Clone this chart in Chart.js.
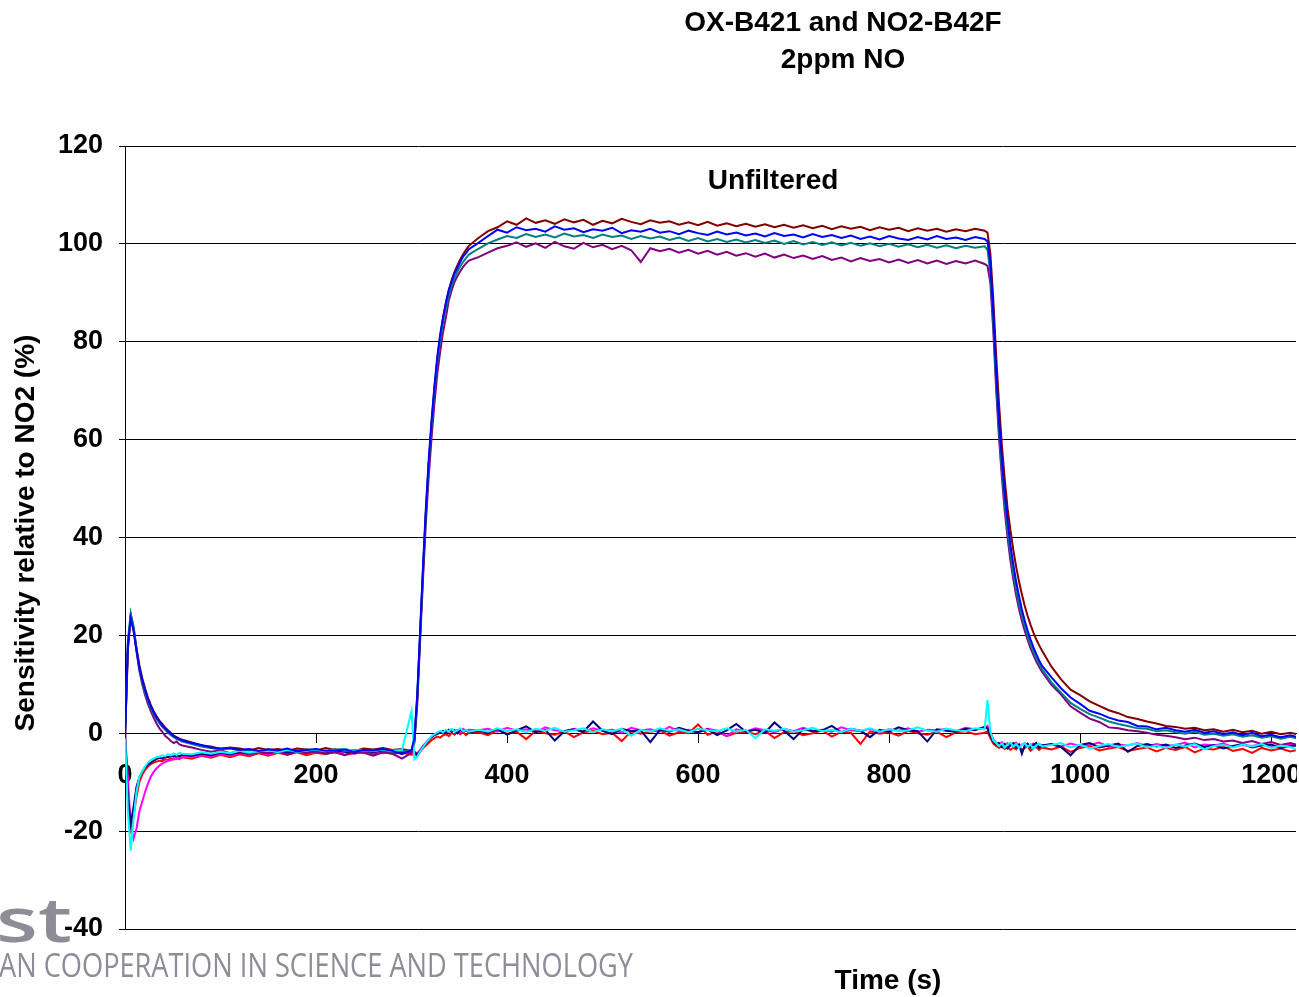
<!DOCTYPE html>
<html>
<head>
<meta charset="utf-8">
<title>OX-B421 and NO2-B42F - 2ppm NO</title>
<script src="https://cdn.jsdelivr.net/npm/chart.js@4.4.1/dist/chart.umd.min.js"></script>
<style>
  html, body { margin: 0; padding: 0; background: #fff; }
  #wrap { width: 1299px; height: 997px; overflow: hidden; background: #fff; }
  canvas { display: block; }
</style>
</head>
<body>
<div id="wrap"><canvas id="chart" width="1297" height="997"></canvas></div>
<script>
// time axis (s), denser around the gas switching steps
const times = [0,3,6,9,12,15,18,21,24,27,30,33,36,39,42,45,48,51,54,57,60,
  70,80,90,100,110,120,130,140,150,160,170,180,190,200,210,220,230,240,250,260,270,280,290,300,
  303,306,309,312,315,318,321,324,327,330,333,336,339,342,345,348,351,354,357,360,
  370,380,390,400,410,420,430,440,450,460,470,480,490,500,510,520,530,540,550,560,570,580,590,600,610,620,630,640,650,660,670,680,690,700,710,720,730,740,750,760,770,780,790,800,810,820,830,840,850,860,870,880,890,900,
  903,906,909,912,915,918,921,924,927,930,933,936,939,942,945,948,951,954,957,960,
  970,980,990,1000,1010,1020,1030,1040,1050,1060,1070,1080,1090,1100,1110,1120,1130,1140,1150,1160,1170,1180,1190,1200,1210,1220,1230];

// OX-B421 sensors (respond to NO)
const oxBlue = [-1,18,23.5,21,17,13.5,11,8.8,7,5.5,4.3,3.2,2.5,1.6,1.0,0.4,-0.1,-0.6,-0.9,-1.2,-1.5,
  -2.0,-2.4,-2.9,-3.1,-3.0,-3.4,-3.2,-3.6,-3.3,-3.5,-3.1,-3.7,-3.4,-3.2,-3.6,-3.5,-3.3,-3.8,-3.4,-3.5,-3.2,-3.6,-4.3,-3.4,
  -1,8,21,34,46,56,64,71,77,81.5,85,88,90.5,92.3,94,95.1,96.3,97.4,98.1,98.9,
  100.2,101.6,102.9,102.3,103.4,102.8,103.1,102.5,103.6,102.9,103.2,102.4,103.0,102.7,103.3,102.2,102.8,102.5,103.1,102.3,
  102.6,102.0,102.7,102.2,101.8,102.5,101.9,102.3,101.7,102.1,101.5,102.2,101.6,101.9,101.3,102.0,101.4,101.8,101.2,101.7,
  101.0,101.5,100.9,101.6,101.1,100.8,101.4,100.9,101.6,101.0,101.3,100.8,101.4,101.0,
  100.5,96,86,74,64,56,49,43.5,38.5,34.5,31,28,25.3,23,21,19.2,17.6,16.2,14.9,13.8,
  11.4,9.2,7.3,6.0,4.6,4.0,3.2,2.6,2.3,1.5,1.4,0.8,1.1,0.6,0.3,0.7,0.1,0.4,-0.2,0.2,-0.4,0.1,-0.6,-0.3,-0.8,-0.4,-0.9];

const oxBrown = [-1.5,17,24.2,21.5,17.5,14,11.3,9.2,7.3,5.8,4.5,3.5,2.6,1.9,1.2,0.6,0.1,-0.5,-0.8,-1.1,-1.3,
  -1.9,-2.5,-2.7,-3.2,-2.9,-3.1,-3.5,-3.0,-3.4,-3.2,-3.6,-3.1,-3.3,-3.5,-3.0,-3.4,-3.2,-3.6,-3.1,-3.3,-3.0,-3.4,-3.2,-3.6,
  -1.5,7,20,33,45,55,63.5,70.5,76.5,81,84.8,88,90.6,92.6,94.3,95.6,96.8,97.9,98.8,99.6,
  101.2,102.6,103.4,104.6,103.9,105.2,104.3,104.8,104.1,105.0,104.4,104.9,103.9,104.7,104.2,105.1,104.5,104.0,104.8,104.3,
  104.6,103.9,104.4,103.8,104.5,103.7,104.2,103.6,104.1,103.5,104.0,103.4,103.9,103.3,103.8,103.2,103.7,103.0,103.6,103.1,
  103.5,102.8,103.4,102.9,103.3,102.6,103.2,102.7,103.1,102.5,103.0,102.6,103.1,102.7,
  102.3,98,89,77.5,67.5,59,52,46,41.5,37.5,34,31,28.4,26,24,22.2,20.6,19.2,18,16.9,
  13.6,11.0,8.9,7.8,6.5,5.6,4.7,4.1,3.3,2.9,2.4,2.0,1.5,1.3,0.9,1.1,0.6,0.8,0.3,0.7,0.2,0.5,-0.1,0.3,-0.2,0.1,-0.3];

const oxTeal = [-0.5,19,24.5,21.8,17.2,13.2,10.5,8.3,6.6,5.1,3.9,2.9,2.0,1.3,0.7,0.1,-0.4,-0.8,-1.2,-1.4,-1.7,
  -2.2,-2.7,-3.0,-3.3,-3.1,-3.5,-3.3,-3.7,-3.2,-3.6,-3.4,-3.8,-3.3,-3.5,-3.7,-3.2,-3.6,-3.4,-3.7,-3.3,-3.5,-3.8,-3.6,-3.5,
  -1.2,7.5,20.5,33.5,45,55,63,70,76,80.5,84,87,89.5,91.5,93,94.3,95.4,96.3,97.1,97.8,
  99.0,100.1,100.9,101.6,101.2,102.0,101.4,101.9,101.3,102.1,101.5,101.8,101.2,101.9,101.4,101.7,101.0,101.6,101.1,101.5,
  100.8,101.3,100.6,101.2,100.5,101.0,100.4,100.9,100.3,100.8,100.2,100.7,100.0,100.6,99.9,100.4,99.8,100.3,99.7,100.2,
  99.6,100.1,99.5,100.0,99.4,99.9,99.3,99.8,99.2,99.7,99.1,99.6,99.2,99.5,
  98.8,94,84,72,62,54,47,41.5,36.8,32.8,29.4,26.5,24,21.8,19.9,18.2,16.7,15.4,14.2,13.1,
  10.4,8.3,6.2,5.0,3.9,3.2,2.4,1.9,1.5,1.0,0.9,0.4,0.6,0.2,-0.1,0.3,-0.3,-0.1,-0.5,-0.2,-0.7,-0.4,-0.9,-0.6,-1.1,-0.7,-1.2];

const oxPurple = [-0.8,17.5,23.8,21,16.8,12.8,10,7.8,6,4.5,3.2,2.0,1.0,0.3,-0.5,-1.0,-1.6,-2.0,-1.7,-2.3,-2.5,
  -2.9,-3.4,-3.8,-3.5,-4.1,-3.7,-4.3,-3.9,-4.0,-3.6,-4.4,-3.8,-4.1,-3.7,-4.2,-3.9,-4.5,-3.8,-4.0,-4.6,-3.9,-4.2,-5.2,-4.0,
  -2,6,19,31.5,43,52.5,60.5,67.5,73.5,78,82,85,88.5,90.5,92.2,93.4,94.4,95.3,96,96.6,
  97.3,98.2,99.1,99.6,100.3,99.4,100.1,99.2,100.4,99.5,99.0,100.2,99.3,99.8,98.9,99.6,98.7,96.3,99.1,98.5,
  99.0,98.2,98.8,98.0,98.6,97.8,98.4,97.6,98.1,97.4,98.0,97.2,97.8,97.1,97.6,96.9,97.5,96.7,97.2,96.4,
  97.1,96.5,96.9,96.2,96.8,96.1,96.7,96.0,96.6,95.9,96.5,96.0,96.6,95.9,
  95.5,92,82.5,70.5,60.5,52.5,45.5,40,35.3,31.5,28.2,25.4,23,20.9,19.1,17.4,16,14.7,13.6,12.6,
  9.9,7.9,5.5,4.2,3.0,2.3,1.2,1.0,0.6,0.4,0.1,-0.3,-0.5,-0.8,-1.2,-0.9,-1.4,-1.2,-1.7,-1.5,-2.0,-1.6,-2.2,-1.8,-2.4,-2.0,-2.5];

// NO2-B42F sensors (little response to NO)
const no2Red = [0,-12,-19.5,-17,-13,-10,-8.5,-7.5,-6.8,-6.3,-6.0,-5.8,-5.6,-5.7,-5.3,-5.5,-5.1,-5.4,-5.0,-5.3,-4.9,
  -5.2,-4.6,-5.0,-4.4,-4.9,-4.3,-4.7,-4.1,-4.6,-4.0,-4.4,-3.9,-4.5,-4.0,-4.3,-3.8,-4.4,-4.1,-3.9,-4.3,-3.8,-4.2,-4.0,-4.4,
  -4.2,-4.6,-3.8,-3.1,-2.5,-2.0,-1.4,-1.0,-0.7,-0.9,-0.4,-0.2,-0.6,0.1,-0.3,0.3,-0.2,0.2,-0.4,0.1,
  0.2,-0.4,0.6,-0.1,0.3,-1.2,0.5,0.0,-0.3,0.4,-0.8,0.2,0.5,-0.2,0.1,-1.6,0.4,-0.1,0.3,0.6,
  -0.5,0.2,0.0,1.8,-0.3,0.4,-0.6,0.1,0.3,-0.2,0.5,-1.0,0.2,0.4,-0.4,0.0,0.6,-0.7,0.3,0.1,
  -2.2,0.4,-0.1,0.2,-0.5,0.5,0.0,-0.3,0.3,-0.8,0.2,0.4,-0.2,0.1,
  0.4,-1.0,-2.1,-2.6,-3.0,-2.7,-3.2,-2.8,-3.4,-2.9,-3.3,-2.6,-3.5,-3.0,-2.7,-3.6,-3.1,-2.8,-3.4,-2.9,
  -3.3,-2.7,-3.8,-3.0,-2.6,-3.5,-3.1,-2.8,-3.6,-3.2,-2.9,-3.7,-3.0,-3.4,-2.8,-3.9,-3.1,-3.3,-2.7,-3.6,-3.2,-4.0,-3.0,-3.5,-3.1,-3.7,-3.3];

const no2Magenta = [0,-9,-19,-21.5,-19.5,-16,-14,-12,-10.3,-8.9,-7.9,-7.2,-6.6,-6.2,-5.9,-5.6,-5.5,-5.2,-5.3,-5.0,-4.9,
  -4.8,-4.5,-4.7,-4.2,-4.6,-4.0,-4.4,-3.9,-4.3,-3.8,-4.2,-3.7,-4.1,-3.9,-3.6,-4.0,-3.7,-4.2,-3.8,-3.6,-4.1,-3.7,-3.9,-3.8,
  -3.9,-4.1,-3.4,-2.6,-1.9,-1.2,-0.7,-0.3,0.0,0.3,0.1,0.6,0.3,0.8,0.4,0.7,0.2,0.9,0.5,0.7,
  0.6,0.9,0.3,1.1,0.5,0.8,0.2,1.2,0.6,0.4,0.9,0.3,1.0,0.5,0.7,0.1,1.1,0.6,0.8,0.3,
  1.3,0.4,0.7,0.2,0.9,0.5,-0.6,0.8,0.3,1.0,0.6,0.2,0.9,0.4,1.1,0.5,0.7,0.3,1.2,0.6,
  0.4,0.9,0.2,0.8,0.5,1.0,0.3,0.7,0.6,0.9,0.4,1.1,0.8,1.0,
  1.5,0.2,-1.2,-1.9,-2.3,-1.8,-2.5,-2.0,-2.6,-2.2,-1.9,-2.7,-2.3,-2.0,-2.8,-2.4,-2.1,-2.6,-2.2,-2.5,
  -2.3,-2.7,-2.1,-2.6,-2.4,-1.9,-2.8,-2.3,-2.5,-2.0,-2.7,-2.2,-2.6,-2.4,-1.9,-2.9,-2.3,-2.5,-2.1,-2.8,-2.4,-2.6,-2.2,-2.7,-2.5,-2.3,-2.8];

const no2Navy = [0,-13,-18.5,-15,-11,-9,-7.8,-7.0,-6.4,-6.0,-5.6,-5.3,-5.0,-5.2,-4.8,-4.9,-4.6,-4.8,-4.5,-4.7,-4.4,
  -4.6,-4.2,-4.5,-4.0,-4.3,-3.9,-4.2,-3.8,-4.1,-3.7,-4.0,-3.6,-3.9,-3.7,-4.0,-3.5,-3.8,-4.1,-3.6,-3.9,-3.5,-3.8,-4.0,-3.7,
  -3.8,-4.4,-3.6,-2.8,-2.1,-1.4,-0.8,-0.4,-0.1,0.2,0.5,0.1,0.7,0.3,0.6,0.0,0.8,0.4,0.6,0.2,
  0.5,0.1,0.9,-0.3,0.6,1.4,0.2,0.7,-1.5,0.4,0.8,0.3,2.4,0.5,-0.2,0.9,0.4,0.6,-1.8,0.7,
  0.3,1.1,0.5,0.2,0.8,-0.4,0.6,1.9,0.3,0.7,0.1,2.2,0.5,-1.2,0.8,0.4,0.6,1.5,0.2,0.9,
  0.5,-0.8,0.7,0.3,1.2,0.6,0.4,-1.7,0.8,0.5,0.3,0.9,0.6,1.3,
  1.0,-0.5,-1.6,-2.3,-2.0,-2.8,-2.2,-3.1,-2.4,-2.0,-2.9,-2.3,-4.2,-2.5,-2.1,-2.9,-2.4,-2.0,-3.0,-2.5,
  -2.2,-2.8,-4.5,-2.4,-2.0,-2.9,-2.5,-2.1,-3.8,-2.6,-2.2,-2.7,-2.3,-3.0,-2.5,-2.1,-2.8,-2.4,-3.1,-2.6,-2.2,-2.9,-2.5,-2.3,-3.0,-2.6,-2.4];

const no2Cyan = [0,-16,-24,-17.5,-12,-9,-7.8,-6.8,-6.0,-5.5,-5.2,-4.9,-4.8,-4.5,-4.7,-4.3,-4.5,-4.1,-4.4,-4.0,-4.2,
  -4.3,-3.9,-4.2,-3.8,-4.1,-3.6,-4.0,-3.7,-3.5,-3.9,-3.4,-3.8,-3.6,-3.3,-3.7,-3.5,-3.2,-3.6,-3.4,-3.7,-3.3,-3.6,-3.4,4.5,
  -5.3,-4.8,-3.7,-2.9,-2.0,-1.3,-0.6,-0.2,0.2,0.5,0.2,0.7,0.4,0.9,0.3,0.6,1.0,0.4,0.7,0.3,
  0.7,0.3,1.0,0.4,0.8,0.2,0.9,0.5,1.1,0.3,0.6,1.0,0.2,0.8,0.4,0.9,-0.5,0.7,0.3,1.0,
  0.5,0.8,0.2,0.9,0.6,0.4,1.0,0.3,0.7,-1.0,0.8,0.5,0.9,0.3,0.6,1.1,0.4,0.7,0.2,0.9,
  0.5,1.0,0.3,0.8,0.4,0.6,1.2,0.5,0.3,0.9,0.6,0.4,1.0,0.8,
  6.8,0.3,-1.4,-2.0,-2.6,-2.1,-2.9,-2.3,-1.9,-2.7,-2.2,-3.0,-2.4,-2.0,-2.8,-2.3,-3.2,-2.5,-2.1,-2.7,
  -2.4,-2.0,-2.9,-2.3,-3.1,-2.6,-2.2,-2.8,-2.4,-2.1,-2.9,-2.5,-3.0,-2.3,-2.7,-2.2,-3.3,-2.6,-2.4,-2.9,-2.3,-2.7,-2.2,-3.0,-2.5,-2.8,-3.6];

const xTicks = [0, 200, 400, 600, 800, 1000, 1200];
const yTicks = [-40, -20, 0, 20, 40, 60, 80, 100, 120];
const titleLines = ['OX-B421 and NO2-B42F', '2ppm NO'];

const BOLD = "bold 28px 'Liberation Sans', Arial, Helvetica, sans-serif";
const TICK_FONT = { family: "'Liberation Sans', Arial, Helvetica, sans-serif", size: 27, weight: 'bold' };

// first entry is drawn on top
const series = [
  { label: 'OX-B421 d', color: '#0000FF', values: oxBlue },
  { label: 'NO2-B42F d', color: '#00FFFF', values: no2Cyan },
  { label: 'OX-B421 c', color: '#008080', values: oxTeal },
  { label: 'OX-B421 a', color: '#800000', values: oxBrown },
  { label: 'OX-B421 b', color: '#800080', values: oxPurple },
  { label: 'NO2-B42F c', color: '#000080', values: no2Navy },
  { label: 'NO2-B42F b', color: '#FF00FF', values: no2Magenta },
  { label: 'NO2-B42F a', color: '#FF0000', values: no2Red }
];

const datasets = series.map(s => ({
  label: s.label,
  data: times.map((t, i) => ({ x: t, y: s.values[i] })),
  borderColor: s.color,
  backgroundColor: s.color,
  borderWidth: 2,
  pointRadius: 0,
  tension: 0,
  fill: false
}));

// titles, axis titles and the watermark, drawn on top of the plot
const textLayer = {
  id: 'textLayer',
  afterDraw(chart) {
    const ctx = chart.ctx;
    ctx.save();
    ctx.fillStyle = '#000';
    ctx.textAlign = 'center';
    ctx.textBaseline = 'middle';
    ctx.font = BOLD;
    ctx.fillText(titleLines[0], 843, 23);
    ctx.fillText(titleLines[1], 843, 60);
    ctx.fillText('Unfiltered', 773, 181);
    ctx.fillText('Time (s)', 888, 981);

    ctx.save();
    ctx.translate(26, 533);
    ctx.rotate(-Math.PI / 2);
    ctx.fillText('Sensitivity relative to NO2 (%)', 0, 0);
    ctx.restore();

    // COST logo remains at the bottom left
    ctx.fillStyle = '#8d8d98';
    ctx.textAlign = 'left';
    ctx.textBaseline = 'alphabetic';
    ctx.font = "32px 'Open Sans', 'Noto Sans', sans-serif";
    const logoText = 'AN COOPERATION IN SCIENCE AND TECHNOLOGY';
    const w = ctx.measureText(logoText).width;
    ctx.save();
    ctx.translate(-1, 977);
    ctx.scale(634 / w, 1);
    ctx.fillText(logoText, 0, 0);
    ctx.restore();

    ctx.font = "600 62px 'Open Sans', 'Noto Sans', sans-serif";
    const sw = ctx.measureText('st').width;
    ctx.save();
    ctx.translate(-4, 942);
    ctx.scale(76 / sw, 1);
    ctx.fillText('st', 0, 0);
    ctx.restore();

    ctx.restore();
  }
};

new Chart(document.getElementById('chart'), {
  type: 'line',
  data: { datasets },
  options: {
    responsive: false,
    animation: false,
    events: [],
    layout: { padding: { top: 146, bottom: 68, right: 1, left: 0 } },
    plugins: {
      legend: { display: false },
      title: { display: false },
      tooltip: { enabled: false }
    },
    scales: {
      x: {
        type: 'linear',
        min: 0,
        max: 1226,
        position: { y: 0 },
        afterBuildTicks: scale => { scale.ticks = xTicks.map(v => ({ value: v })); },
        afterFit: scale => { scale.paddingLeft = 0; scale.paddingRight = 0; },
        ticks: {
          autoSkip: false,
          maxRotation: 0,
          color: '#000',
          font: TICK_FONT,
          padding: 17,
          callback: v => String(v)
        },
        grid: {
          drawOnChartArea: false,
          drawTicks: true,
          tickLength: 9,
          color: '#000'
        },
        border: { display: true, color: '#000', width: 1 }
      },
      y: {
        type: 'linear',
        min: -40,
        max: 120,
        afterBuildTicks: scale => { scale.ticks = yTicks.map(v => ({ value: v })); },
        afterFit: scale => { scale.width = 125; },
        ticks: {
          color: '#000',
          font: TICK_FONT,
          padding: 16,
          callback: v => String(v)
        },
        grid: {
          color: '#000',
          lineWidth: 1,
          tickLength: 6
        },
        border: { display: true, color: '#000', width: 1 }
      }
    }
  },
  plugins: [textLayer]
});
</script>
</body>
</html>
